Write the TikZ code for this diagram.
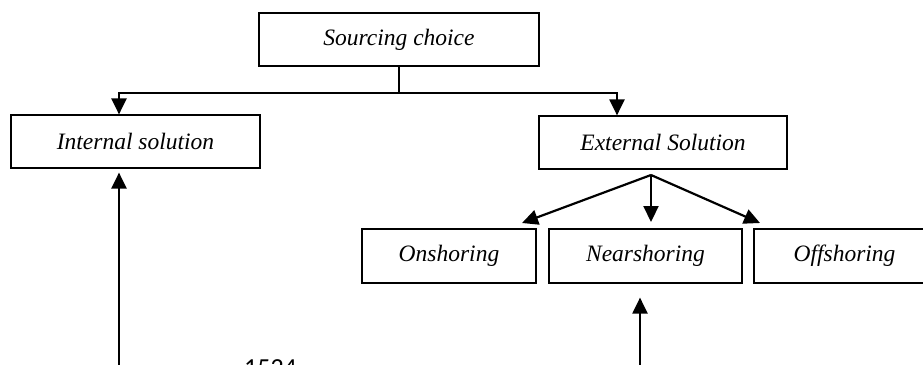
\documentclass[tikz,border=0pt]{standalone}
\usepackage{fontspec}
\setmainfont{Liberation Serif}
\newfontfamily\pagenumfont{Carlito}
\usetikzlibrary{arrows.meta,calc}
\tikzset{
  box/.style={draw=black, line width=1.2pt, fill=white, inner sep=0pt,
    font=\fontsize{23.5}{28}\selectfont\itshape, anchor=center},
  arr/.style={line width=2.2pt, -{Triangle[length=16pt,width=15pt]}},
  plain/.style={line width=2.2pt},
  thin/.style={line width=1.4pt}
}
\begin{document}
\begin{tikzpicture}[x=1pt,y=-1pt]
\useasboundingbox (0,0) rectangle (923,364);
\clip (0,0) rectangle (923,364);
\fill[white] (0,0) rectangle (923,364);
% boxes
\node[box, minimum width=280pt, minimum height=53pt] (src) at (399,39.5) {Sourcing choice};
\node[box, minimum width=249pt, minimum height=53pt] (int) at (135.5,141.5) {Internal solution};
\node[box, minimum width=248pt, minimum height=53pt] (ext) at (663,142.5) {External Solution};
\node[box, minimum width=174pt, minimum height=54pt] (on) at (449,256) {Onshoring};
\node[box, minimum width=193pt, minimum height=54pt] (near) at (645.5,256) {Nearshoring};
\node[box, minimum width=181pt, minimum height=54pt, text width=168pt, align=center] (off) at (844.5,256) {Offshoring\hspace*{20pt}};
% junction line
\coordinate (jm) at (399,93);
\coordinate (jl) at (119,93);
\coordinate (jr) at (617,93);
\draw[thin] (src.south) -- (jm);
\draw[plain] ([xshift=-1pt]jl) -- ([xshift=1pt]jr);
\draw[arr] (jl) -- (jl |- int.north);
\draw[arr] (jr) -- (jr |- ext.north);
% fan
\coordinate (fan) at (651,175);
\coordinate (ton) at (522,223);
\coordinate (tnear) at (651,222);
\coordinate (toff) at (760,223);
\draw[arr] (fan) -- (ton);
\draw[arr] (fan) -- (tnear);
\draw[arr] (fan) -- (toff);
% upward arrows from below
\coordinate (b1) at (119,380);
\coordinate (b2) at (640,380);
\draw[arr, shorten >=4pt] (b1) -- (b1 |- int.south);
\draw[arr, shorten >=14pt] (b2) -- (b2 |- near.south);
% cut-off page number
\node[anchor=base west, inner sep=0pt, font=\pagenumfont\fontsize{26}{30}\selectfont] (pg) at (244,376) {1524};
\end{tikzpicture}
\end{document}
